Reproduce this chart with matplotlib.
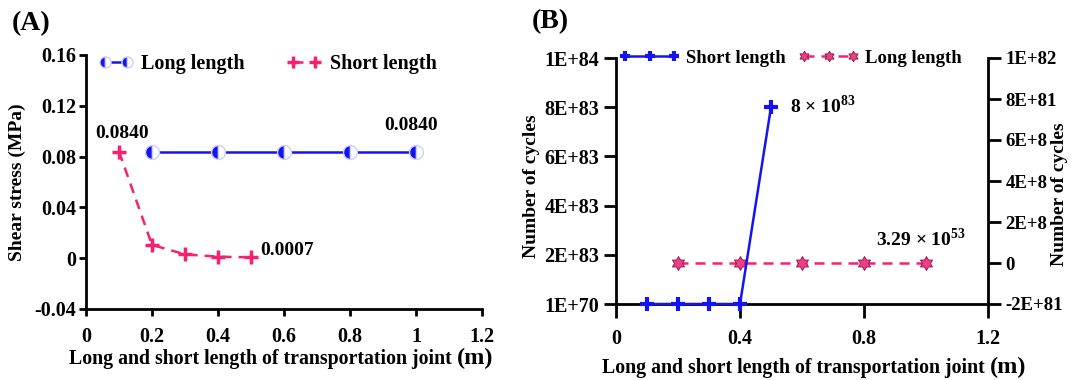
import matplotlib
matplotlib.use("Agg")
import matplotlib.pyplot as plt
from matplotlib.path import Path
from matplotlib.offsetbox import TextArea, HPacker, AnchoredOffsetbox
import numpy as np

plt.rcParams['font.family'] = ['Liberation Serif', 'DejaVu Serif']
plt.rcParams['font.weight'] = 'bold'
plt.rcParams['mathtext.fontset'] = 'custom'
plt.rcParams['mathtext.rm'] = 'Liberation Serif:bold'
plt.rcParams['mathtext.bf'] = 'Liberation Serif:bold'

# ---- Data (A) ----
a_long_x = [0.2, 0.4, 0.6, 0.8, 1.0]
a_long_y = [0.084, 0.084, 0.084, 0.084, 0.084]
a_short_x = [0.1, 0.2, 0.3, 0.4, 0.5]
a_short_y = [0.084, 0.0105, 0.003, 0.0012, 0.0007]
a_yticks = [-0.04, 0, 0.04, 0.08, 0.12, 0.16]
a_ytick_labels = ['-0.04', '0', '0.04', '0.08', '0.12', '0.16']
a_xticks = [0, 0.2, 0.4, 0.6, 0.8, 1.0, 1.2]
a_xtick_labels = ['0', '0.2', '0.4', '0.6', '0.8', '1', '1.2']

# ---- Data (B) ----
b_short_x = [0.1, 0.2, 0.3, 0.4, 0.5]
b_short_y = [1e70, 1e70, 1e70, 1e70, 8e83]
b_long_x = [0.2, 0.4, 0.6, 0.8, 1.0]
b_long_y = [3.29e53, 3.29e53, 3.29e53, 3.29e53, 3.29e53]
b_left_ticks = [0, 2e83, 4e83, 6e83, 8e83, 1e84]
b_left_labels = ['1E+70', '2E+83', '4E+83', '6E+83', '8E+83', '1E+84']
b_right_ticks = [-2e81, 0, 2e81, 4e81, 6e81, 8e81, 1e82]
b_right_labels = ['-2E+81', '0', '2E+8', '4E+8', '6E+8', '8E+81', '1E+82']
b_xticks = [0, 0.4, 0.8, 1.2]
b_xtick_labels = ['0', '0.4', '0.8', '1.2']

xlabel_main = 'Long and short length of transportation joint'
xlabel_unit = '(m)'

BLUE = '#1414f0'
PINK = '#f7226f'
STARFILL = '#ee3f86'
DASH = (0, (4, 2.8))

# hexagram marker shape
ang = np.deg2rad(np.arange(12) * 30 + 90)
rad = np.where(np.arange(12) % 2 == 0, 1.0, 0.58)
verts = np.column_stack([rad * np.cos(ang), rad * np.sin(ang)])
verts = np.vstack([verts, verts[:1]])
codes = [Path.MOVETO] + [Path.LINETO] * 11 + [Path.CLOSEPOLY]
hexagram = Path(verts, codes)

W, H = 1076, 380
FS = 14
TFS = 14.5
fig = plt.figure(figsize=(W / 100, H / 100), dpi=100)

def fx(px):
    return px / W

def fy(py):
    return 1 - py / H

def style_axes(ax, length, pad):
    ax.spines['top'].set_visible(False)
    ax.spines['right'].set_visible(False)
    for s in ax.spines.values():
        s.set_linewidth(2.0)
    ax.tick_params(direction='out', length=length, width=2.0, labelsize=TFS, pad=pad)

def xlabel_box(ax, cx, cy):
    t1 = TextArea(xlabel_main, textprops=dict(fontsize=FS + 0.3, fontweight='bold'))
    t2 = TextArea(xlabel_unit, textprops=dict(fontsize=17.5, fontweight='bold'))
    box = HPacker(children=[t1, t2], align='baseline', pad=0, sep=4)
    anch = AnchoredOffsetbox(loc='center', child=box, frameon=False, pad=0,
                             borderpad=0, bbox_to_anchor=(fx(cx), fy(cy)),
                             bbox_transform=fig.transFigure)
    ax.add_artist(anch)

def ylabel_at(axis, text, cx, cy):
    axis.set_label_text(text, fontsize=FS, fontweight='bold')
    axis.set_label_coords(fx(cx), fy(cy), transform=fig.transFigure)
    axis.label.set_ha('center')
    axis.label.set_va('center')

# ---------------- Panel A ----------------
axA = fig.add_axes([fx(86), fy(309), fx(482) - fx(86), (309 - 55) / H])
style_axes(axA, 5, 2)
axA.tick_params(axis='x', pad=8)
axA.plot(a_long_x, a_long_y, color=BLUE, lw=1.8, marker='o', ms=10,
         fillstyle='left', markerfacecolor=BLUE, markerfacecoloralt='white',
         markeredgecolor='#cfcff7', mew=1.0, label='Long length', zorder=3)
axA.plot(a_short_x, a_short_y, color=PINK, lw=1.8, ls=DASH, marker='+',
         ms=10, mew=2.5, label='Short length', zorder=3)
axA.set_xlim(0, 1.2)
axA.set_ylim(-0.04, 0.16)
axA.set_xticks(a_xticks)
axA.set_xticklabels(a_xtick_labels)
axA.set_yticks(a_yticks)
axA.set_yticklabels(a_ytick_labels)
xlabel_box(axA, 281, 358)
ylabel_at(axA.yaxis, 'Shear stress (MPa)', 17, 182)
axA.annotate('0.0840', (a_short_x[0], a_short_y[0]), xytext=(3, 18),
             textcoords='offset pixels', ha='center', va='center', fontsize=FS)
axA.annotate('0.0840', (a_long_x[-1], a_long_y[-1]), xytext=(-5, 26),
             textcoords='offset pixels', ha='center', va='center', fontsize=FS)
axA.annotate('0.0007', (a_short_x[-1], a_short_y[-1]), xytext=(9, 7),
             textcoords='offset pixels', ha='left', va='center', fontsize=FS)
axA.legend(loc='center left', bbox_to_anchor=((99 - 86) / 396, (309 - 64) / 254),
           ncol=2, frameon=False, fontsize=14.5, numpoints=2, handlelength=1.7,
           handletextpad=0.4, columnspacing=2.1, markerscale=0.8,
           borderpad=0, borderaxespad=0)
fig.text(fx(12), fy(24), '(A)', fontsize=20, fontweight='bold',
         ha='left', va='center')

# ---------------- Panel B ----------------
axB = fig.add_axes([fx(616), fy(304), fx(988) - fx(616), (304 - 58) / H])
style_axes(axB, 10, 8)
axB.tick_params(axis='y', length=9, pad=3)
axB.plot(b_short_x, b_short_y, color=BLUE, lw=1.8, marker='+', ms=10, mew=3,
         label='Short length', zorder=4, clip_on=False)
axB.set_xlim(0, 1.2)
axB.set_ylim(0, 1e84)
axB.set_xticks(b_xticks)
axB.set_xticklabels(b_xtick_labels)
axB.set_yticks(b_left_ticks)
axB.set_yticklabels(b_left_labels)
xlabel_box(axB, 814, 367)
ylabel_at(axB.yaxis, 'Number of cycles', 532, 186)
axB.annotate(r'8 $\times$ 10$^{\mathbf{83}}$', (b_short_x[-1], b_short_y[-1]),
             xytext=(19, 1), textcoords='offset pixels', ha='left', va='center',
             fontsize=FS)

axR = axB.twinx()
axR.spines['top'].set_visible(False)
axR.spines['left'].set_visible(False)
axR.spines['bottom'].set_visible(False)
axR.spines['right'].set_linewidth(2.0)
axR.tick_params(direction='out', length=9.5, width=2.0, labelsize=13.5, pad=3)
axR.plot(b_long_x, b_long_y, color=PINK, lw=1.8, ls=DASH, marker=hexagram,
         ms=10, markerfacecolor=STARFILL, markeredgecolor='#8a1040', mew=0.6,
         label='Long length', zorder=3)
axR.set_ylim(-2e81, 1e82)
axR.set_yticks(b_right_ticks)
axR.set_yticklabels(b_right_labels)
ylabel_at(axR.yaxis, 'Number of cycles', 1060, 194)
axR.annotate(r'3.29 $\times$ 10$^{\mathbf{53}}$', (b_long_x[-1], b_long_y[-1]),
             xytext=(-50, 24), textcoords='offset pixels', ha='left', va='center',
             fontsize=FS)
axB.set_zorder(axR.get_zorder() + 1)
axB.patch.set_visible(False)

h1, l1 = axB.get_legend_handles_labels()
h2, l2 = axR.get_legend_handles_labels()
axB.legend(h1 + h2, l1 + l2, loc='center left',
           bbox_to_anchor=((619.5 - 616) / 372, 1.0),
           ncol=2, frameon=False, fontsize=13.5, numpoints=3, handlelength=3.2,
           handletextpad=0.33, columnspacing=0.7, markerscale=0.75,
           borderpad=0, borderaxespad=0)
fig.text(fx(532), fy(22), '(B)', fontsize=20, fontweight='bold',
         ha='left', va='center')

fig.savefig('out.png', dpi=100)
